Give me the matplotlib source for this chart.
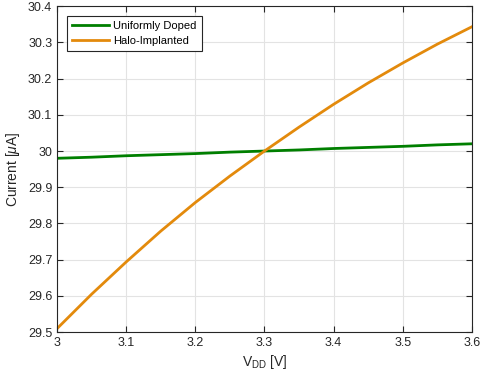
import numpy as np
import matplotlib
matplotlib.use("Agg")
import matplotlib.pyplot as plt

# values
vdd = [3.0, 3.05, 3.1, 3.15, 3.2, 3.25, 3.3, 3.35, 3.4, 3.45, 3.5, 3.55, 3.6]
i_uniform = [29.980, 29.983, 29.987, 29.990, 29.993, 29.997, 30.000, 30.003, 30.007, 30.010, 30.013, 30.017, 30.020]
i_halo = [29.510, 29.605, 29.694, 29.779, 29.858, 29.931, 30.000, 30.066, 30.129, 30.188, 30.243, 30.295, 30.343]

xticks = [3.0, 3.1, 3.2, 3.3, 3.4, 3.5, 3.6]
xtick_labels = ["3", "3.1", "3.2", "3.3", "3.4", "3.5", "3.6"]
yticks = [29.5, 29.6, 29.7, 29.8, 29.9, 30.0, 30.1, 30.2, 30.3, 30.4]
ytick_labels = ["29.5", "29.6", "29.7", "29.8", "29.9", "30", "30.1", "30.2", "30.3", "30.4"]

plt.rcParams["font.family"] = ["Liberation Sans", "DejaVu Sans"]
plt.rcParams["mathtext.fontset"] = "custom"
plt.rcParams["mathtext.it"] = "Liberation Sans:italic"
plt.rcParams["mathtext.rm"] = "Liberation Sans"

fig = plt.figure(figsize=(4.8, 3.84), dpi=100)
ax = fig.add_axes([0.119, 0.135, 0.864, 0.849])

ax.plot(vdd, i_uniform, color="#007f00", lw=2, label="Uniformly Doped")
ax.plot(vdd, i_halo, color="#e38a0c", lw=2, label="Halo-Implanted")

ax.set_xlim(3.0, 3.6)
ax.set_ylim(29.5, 30.4)
ax.set_xticks(xticks)
ax.set_xticklabels(xtick_labels)
ax.set_yticks(yticks)
ax.set_yticklabels(ytick_labels)
ax.tick_params(direction="in", top=True, right=True, labelsize=9, colors="#262626", length=4, width=0.8)
ax.grid(True, color="#e3e3e3", lw=0.8)
ax.set_axisbelow(True)
for s in ax.spines.values():
    s.set_color("#262626")
    s.set_linewidth(0.8)

ax.set_xlabel("V$_{\\mathrm{DD}}$ [V]", fontsize=10, color="#262626", labelpad=3)
ax.set_ylabel("Current [$\\mu$A]", fontsize=10, color="#262626", labelpad=4)

leg = ax.legend(loc="upper left", fontsize=8, fancybox=False, framealpha=1,
                edgecolor="#262626", handlelength=3.4, borderaxespad=0.85,
                borderpad=0.45, labelspacing=0.5, handletextpad=0.35)
leg.get_frame().set_linewidth(0.8)

fig.savefig("out.png", dpi=100)
